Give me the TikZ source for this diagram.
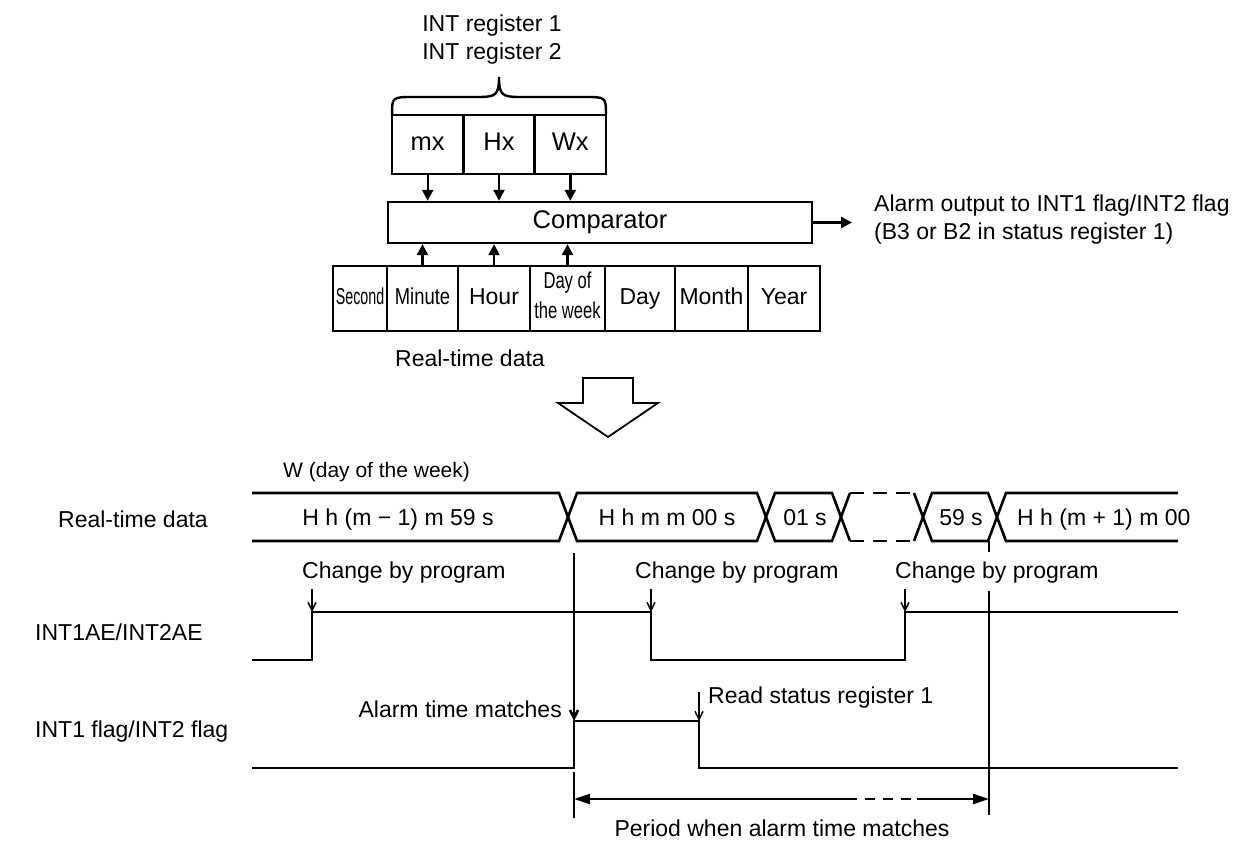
\documentclass[tikz,border=0pt]{standalone}
\usepackage{fontspec}
\setmainfont{Liberation Sans}
\usetikzlibrary{arrows.meta,positioning}

\tikzset{
  lbl/.style={inner sep=0pt, font=\fontsize{23}{27}\selectfont},
  biglbl/.style={inner sep=0pt, font=\fontsize{25.5}{29}\selectfont},
  regbox/.style={biglbl, draw, line width=2.4pt, outer sep=0pt, minimum width=71.3pt, minimum height=59pt, text height=18pt, text depth=5pt},
  databox/.style={lbl, draw, line width=2.4pt, outer sep=0pt, minimum height=65pt},
  oneline/.style={text height=17pt, text depth=5pt},
  arr/.style={line width=2.4pt, -{Triangle[length=11pt,width=11pt]}},
  sig/.style={line width=2.6pt},
  pointer/.style={line width=1.5pt, -{Straight Barb[length=8pt,width=8pt]}},
}

\begin{document}
\begin{tikzpicture}[x=1pt,y=-1pt]
    \useasboundingbox (0,0) rectangle (1247,842);
    % alarm registers and comparator
    \node[lbl, anchor=base] (reg1) at (492,32) {INT register 1};
    \node[lbl, anchor=base] (reg2) at (492,60) {INT register 2};
    \node[regbox] (mx) at (427.7,144.5) {mx};
    \node[regbox, right=0pt of mx] (hx) {Hx};
    \node[regbox, right=0pt of hx] (wx) {Wx};
    \draw[line width=2.4pt] (mx.north west) .. controls (392,97) and (392,97) .. (414,97) -- (478,97)
        .. controls (496,97) and (499,95) .. (499,77) .. controls (499,95) and (502,97) .. (520,97)
        -- (584,97) .. controls (606,97) and (606,97) .. (wx.north east);
    \node[biglbl, draw, line width=2.4pt, minimum width=424pt, minimum height=41pt] (cmp) at (600,222.5) {Comparator};
    \foreach \r in {mx,hx,wx}
        \draw[arr] (\r.south) -- (\r.south |- cmp.north);
    % real-time data registers
    \node[databox, oneline, minimum width=54pt] (sec) at (360,298.5) {\scalebox{0.62}[1]{Second}};
    \node[databox, oneline, minimum width=71pt, right=0pt of sec] (min) {\scalebox{0.8}[1]{Minute}};
    \node[databox, oneline, minimum width=72pt, right=0pt of min] (hour) {Hour};
    \node[databox, minimum width=75pt, right=0pt of hour] (dow) {\scalebox{0.72}[1]{\begin{tabular}{@{}c@{}}Day of\\[3pt]the week\end{tabular}}};
    \node[databox, oneline, minimum width=70pt, right=0pt of dow] (day) {Day};
    \node[databox, oneline, minimum width=73pt, right=0pt of day] (month) {Month};
    \node[databox, oneline, minimum width=72pt, right=0pt of month] (year) {Year};
    \foreach \r in {min,hour,dow}
        \draw[arr] (\r.north) -- (\r.north |- cmp.south);
    \node[lbl, anchor=base west] (rtd) at (395,366) {Real-time data};
    \coordinate (out) at (852,222.5);
    \draw[arr] (cmp.east) -- (out);
    \node[lbl, anchor=base west] (alarm1) at (874,212) {Alarm output to INT1 flag/INT2 flag};
    \node[lbl, anchor=base west] (alarm2) at (874,240) {(B3 or B2 in status register 1)};
    % big arrow
    \draw[line width=1.8pt] (583,378) -- (633,378) -- (633,403) -- (658,403) -- (608,437) -- (558,403) -- (583,403) -- cycle;

    % timing chart
    \node[inner sep=0pt, font=\fontsize{21}{25}\selectfont, anchor=base west] (wlbl) at (283,477) {W (day of the week)};
    \node[lbl, anchor=base west] (rtdl) at (58,527) {Real-time data};
    \node[lbl, anchor=base west] (ael) at (35,640) {INT1AE/INT2AE};
    \node[lbl, anchor=base west] (flgl) at (35,737) {INT1 flag/INT2 flag};
    % data bus
    \draw[sig] (252,493) -- (559,493) -- (577,541) -- (757,541) -- (775,493) -- (832,493) -- (850,541);
    \draw[sig] (252,541) -- (559,541) -- (577,493) -- (757,493) -- (775,541) -- (832,541) -- (850,493);
    \draw[sig, dash pattern=on 14pt off 9pt] (850,493) -- (914,493) (850,541) -- (914,541);
    \draw[sig] (914,541) -- (932,493) -- (988,493) -- (1006,541) -- (1178,541);
    \draw[sig] (914,493) -- (932,541) -- (988,541) -- (1006,493) -- (1178,493);
    \node[lbl, anchor=base] (d1) at (398,525) {H h (m − 1) m 59 s};
    \node[lbl, anchor=base] (d2) at (667,525) {H h m m 00 s};
    \node[lbl, anchor=base] (d3) at (805,525) {01 s};
    \node[lbl, anchor=base] (d4) at (961,525) {59 s};
    \node[lbl, anchor=base west] (d5) at (1017,525) {H h (m + 1) m 00};
    % INT1AE/INT2AE
    \draw[sig] (252,660) -- (312,660) -- (312,612) -- (651,612) -- (651,660) -- (905,660) -- (905,612) -- (1178,612);
    \foreach \x/\t in {312/302,651/635,905/895} {
        \node[lbl, anchor=base west] (chg\x) at (\t,578) {Change by program};
        \draw[pointer] (\x,589) -- (\x,612);
    }
    % INT1 flag/INT2 flag
    \draw[sig] (252,768) -- (574,768) -- (574,721) -- (699,721) -- (699,768) -- (1178,768);
    \draw[pointer, line width=2.6pt] (574,553) -- (574,721);
    \node[lbl, anchor=base east] (atm) at (562,717) {Alarm time matches};
    \draw[pointer] (699,692) -- (699,721);
    \node[lbl, anchor=base west] (rsr) at (708,703) {Read status register 1};
    % period
    \draw[sig] (989,541) -- (989,552);
    \draw[sig] (989,591) -- (989,815);
    \draw[sig] (574,772) -- (574,818);
    \draw[line width=2.4pt, {Triangle[length=16pt,width=10pt]}-] (574,799) -- (847,799);
    \draw[line width=2.4pt, dash pattern=on 10pt off 8pt] (847,799) -- (917,799);
    \draw[line width=2.4pt, -{Triangle[length=16pt,width=10pt]}] (917,799) -- (989,799);
    \node[lbl, anchor=base] (period) at (782,836) {Period when alarm time matches};
\end{tikzpicture}
\end{document}
